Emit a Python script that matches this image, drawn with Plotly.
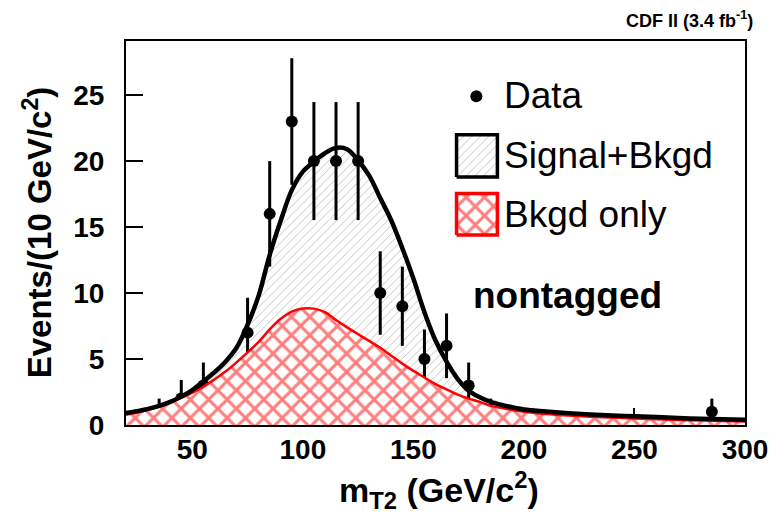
import numpy as np
import plotly.graph_objects as go

# ---------------- data ----------------
data_x = [35, 45, 55, 75, 85, 95, 105, 115, 125, 135, 145, 155, 165, 175, 185, 285]
data_y = [1, 2, 3, 7, 16, 23, 20, 20, 20, 10, 9, 5, 6, 3, 1, 1]

curve_x = [20, 25, 30, 35, 40, 45, 50, 55, 60, 65, 70, 75, 80, 85, 90, 95, 100, 105,
           110, 115, 120, 125, 130, 135, 140, 145, 150, 155, 160, 165, 170, 175, 180,
           185, 190, 200, 210, 220, 230, 240, 250, 260, 275, 290, 300]
sig_bkg_y = [0.9, 1.05, 1.22, 1.45, 1.75, 2.15, 2.65, 3.3, 4.0, 4.8, 5.85, 7.6, 9.8,
             12.9, 15.5, 17.8, 19.2, 19.95, 20.6, 21.0, 20.9, 20.05, 18.9, 17.2, 15.5,
             13.4, 11.1, 8.55, 6.4, 4.8, 3.5, 2.6, 2.1, 1.75, 1.52, 1.18, 1.03, 0.9,
             0.8, 0.72, 0.66, 0.6, 0.5, 0.43, 0.39]
bkg_y = [0.78, 0.95, 1.15, 1.4, 1.7, 2.05, 2.45, 2.9, 3.45, 4.05, 4.75, 5.5, 6.3,
         7.25, 8.05, 8.6, 8.83, 8.82, 8.55, 7.95, 7.4, 6.88, 6.37, 5.85, 5.25, 4.65,
         4.1, 3.6, 3.1, 2.7, 2.3, 2.0, 1.75, 1.45, 1.28, 1.0, 0.83, 0.72, 0.63, 0.56,
         0.5, 0.44, 0.36, 0.3, 0.27]

x_ticks = [50, 100, 150, 200, 250, 300]
y_ticks = [0, 5, 10, 15, 20, 25]

FONT = "Liberation Sans, Arial, Helvetica, sans-serif"
GRAY_HATCH = dict(shape="/", fgcolor="#808080", bgcolor="white", size=6, solidity=0.15)
RED_HATCH = dict(shape="x", fgcolor="#ff0000", bgcolor="white", size=13, solidity=0.42)

fig = go.Figure()

# Signal + background hatched fill
fig.add_trace(go.Scatter(
    x=curve_x, y=sig_bkg_y, mode="lines", line=dict(width=0, shape="spline", color="black"),
    fill="tozeroy", fillcolor="white", fillpattern=GRAY_HATCH,
    showlegend=False, hoverinfo="skip"))

# Data points
fig.add_trace(go.Scatter(
    x=data_x, y=data_y, mode="markers",
    marker=dict(color="black", size=12),
    error_y=dict(type="data", array=np.sqrt(data_y), width=0, thickness=3, color="black"),
    showlegend=False))

# Background only (red cross hatch)
fig.add_trace(go.Scatter(
    x=curve_x, y=bkg_y, mode="lines", line=dict(width=2.5, shape="spline", color="red"),
    fill="tozeroy", fillcolor="white", fillpattern=RED_HATCH,
    showlegend=False, hoverinfo="skip"))

# Signal + background line on top
fig.add_trace(go.Scatter(
    x=curve_x, y=sig_bkg_y, mode="lines", line=dict(width=4.5, shape="spline", color="black"),
    showlegend=False, hoverinfo="skip"))

# ---------------- legend drawn on an overlay axis (plot-area fractions) ----------------
fig.add_trace(go.Scatter(
    x=[0.566], y=[0.856], mode="markers", marker=dict(color="black", size=12),
    xaxis="x2", yaxis="y2", showlegend=False, hoverinfo="skip"))
fig.add_trace(go.Scatter(
    x=[0.534, 0.600, 0.600, 0.534, 0.534], y=[0.646, 0.646, 0.756, 0.756, 0.646],
    mode="lines", line=dict(color="black", width=3.5), fill="toself", fillcolor="white",
    fillpattern=GRAY_HATCH,
    xaxis="x2", yaxis="y2", showlegend=False, hoverinfo="skip"))
fig.add_trace(go.Scatter(
    x=[0.534, 0.600, 0.600, 0.534, 0.534], y=[0.495, 0.495, 0.603, 0.603, 0.495],
    mode="lines", line=dict(color="red", width=3.5), fill="toself", fillcolor="white",
    fillpattern=RED_HATCH,
    xaxis="x2", yaxis="y2", showlegend=False, hoverinfo="skip"))

annotations = [
    dict(text="<b>CDF II (3.4 fb<sup>-1</sup>)</b>", x=1.016, y=1.055, xref="paper", yref="paper",
         xanchor="right", yanchor="middle", showarrow=False, font=dict(size=18, color="black", family=FONT)),
    dict(text="<b>nontagged</b>", x=0.5575, y=0.336, xref="paper", yref="paper",
         xanchor="left", yanchor="middle", showarrow=False, font=dict(size=37, color="black", family=FONT)),
    dict(text="Data", x=0.608, y=0.857, xref="paper", yref="paper",
         xanchor="left", yanchor="middle", showarrow=False, font=dict(size=37, color="black", family=FONT)),
    dict(text="Signal+Bkgd", x=0.608, y=0.703, xref="paper", yref="paper",
         xanchor="left", yanchor="middle", showarrow=False, font=dict(size=37, color="black", family=FONT)),
    dict(text="Bkgd only", x=0.608, y=0.549, xref="paper", yref="paper",
         xanchor="left", yanchor="middle", showarrow=False, font=dict(size=37, color="black", family=FONT)),
    dict(text="<b>m<sub>T2</sub> (GeV/c<sup>2</sup>)</b>", x=0.506, y=-0.17, xref="paper", yref="paper",
         xanchor="center", yanchor="middle", showarrow=False, font=dict(size=34, color="black", family=FONT)),
    dict(text="<b>Events/(10 GeV/c<sup>2</sup>)</b>", x=-0.143, y=0.503, xref="paper", yref="paper",
         xanchor="center", yanchor="middle", textangle=-90, showarrow=False,
         font=dict(size=33, color="black", family=FONT)),
]

fig.update_layout(
    width=780, height=522,
    margin=dict(l=126, r=28, t=41, b=97),
    paper_bgcolor="white", plot_bgcolor="white",
    font=dict(family=FONT, color="black"),
    showlegend=False,
    annotations=annotations,
    xaxis=dict(range=[20, 300], tickvals=x_ticks, ticktext=[str(v) for v in x_ticks],
               ticks="inside", ticklen=17, tickwidth=2, tickcolor="black",
               showline=True, linecolor="black", linewidth=2, mirror=True,
               showgrid=False, zeroline=False, layer="below traces",
               tickfont=dict(size=28, family=FONT, color="black", weight="bold"),
               ticklabelstandoff=-2),
    yaxis=dict(range=[0, 29.1], tickvals=y_ticks, ticktext=[str(v) for v in y_ticks],
               ticks="inside", ticklen=17, tickwidth=2, tickcolor="black",
               showline=True, linecolor="black", linewidth=2, mirror=True,
               showgrid=False, zeroline=False, layer="below traces",
               tickfont=dict(size=28, family=FONT, color="black", weight="bold"),
               ticklabelstandoff=14),
    xaxis2=dict(overlaying="x", anchor="y2", range=[0, 1], visible=False, fixedrange=True),
    yaxis2=dict(overlaying="y", anchor="x2", range=[0, 1], visible=False, fixedrange=True),
)

fig.write_html("out.html")
